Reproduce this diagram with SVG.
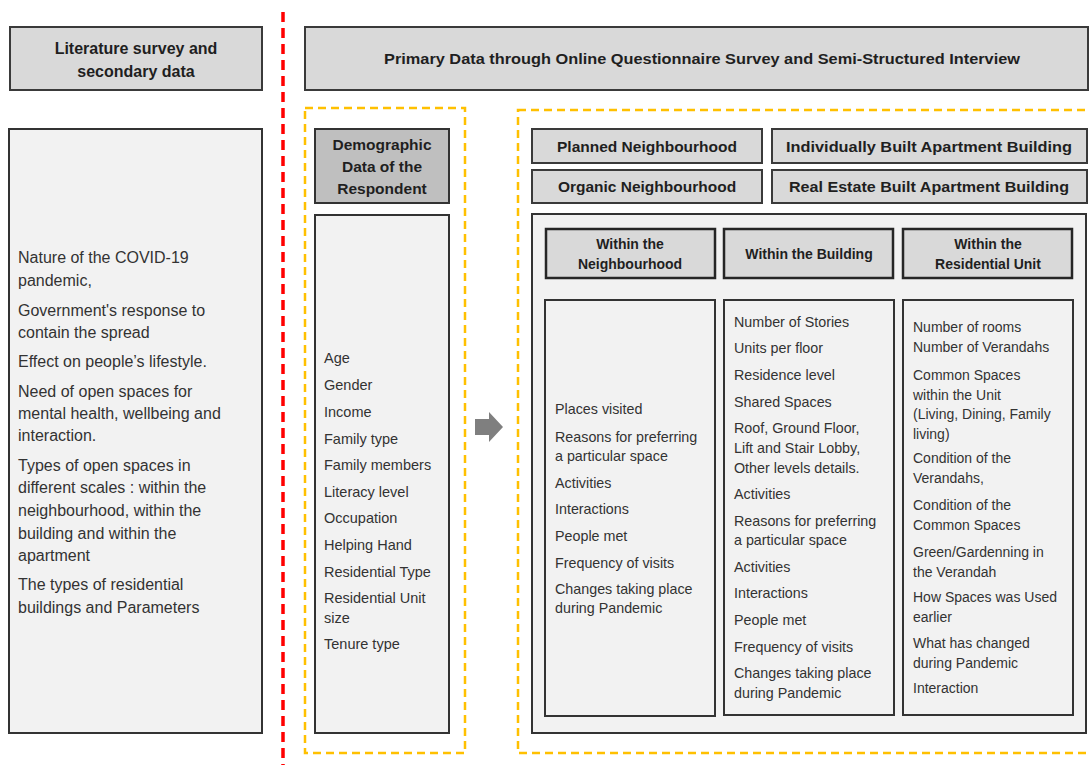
<svg xmlns="http://www.w3.org/2000/svg" width="1089" height="765" viewBox="0 0 1089 765">
<style>
.hdr{fill:#d9d9d9;stroke:#3a3a3a;stroke-width:2}
.dhdr{fill:#bfbfbf;stroke:#333;stroke-width:2}
.list{fill:#f2f2f2;stroke:#333;stroke-width:2}
.chdr{fill:#d9d9d9;stroke:#262626;stroke-width:2.5}
.yel{fill:none;stroke:#ffc000;stroke-width:2.5;stroke-dasharray:8 5}
.b{font-family:"Liberation Sans",Arial,sans-serif;font-weight:bold;fill:#1f1f1f;text-anchor:middle}
.t{font-family:"Liberation Sans",Arial,sans-serif;fill:#333}
</style>
<rect width="1089" height="765" fill="#fff"/>
<line x1="283" y1="12" x2="283" y2="765" stroke="#ff0000" stroke-width="3.5" stroke-dasharray="10 6"/>

<g id="lit-header">
<rect class="hdr" x="10" y="27" width="252" height="63"/>
<text class="b" font-size="16" x="136" y="54">Literature survey and</text>
<text class="b" font-size="16" x="136" y="77">secondary data</text>
</g>

<g id="primary-header">
<rect class="hdr" x="305" y="27" width="783" height="63"/>
<text class="b" font-size="14.5" x="702" y="64" textLength="636" lengthAdjust="spacingAndGlyphs">Primary Data through Online Questionnaire Survey and Semi-Structured Interview</text>
</g>

<g id="lit-list">
<rect class="list" x="9" y="129" width="253" height="604"/>
<g class="t" font-size="16">
<text x="18" y="263">Nature of the COVID-19</text>
<text x="18" y="286">pandemic,</text>
<text x="18" y="316">Government's response to</text>
<text x="18" y="338">contain the spread</text>
<text x="18" y="367">Effect on people’s lifestyle.</text>
<text x="18" y="397">Need of open spaces for</text>
<text x="18" y="419">mental health, wellbeing and</text>
<text x="18" y="441">interaction.</text>
<text x="18" y="471">Types of open spaces in</text>
<text x="18" y="493">different scales : within the</text>
<text x="18" y="516">neighbourhood, within the</text>
<text x="18" y="539">building and within the</text>
<text x="18" y="561">apartment</text>
<text x="18" y="590">The types of residential</text>
<text x="18" y="613">buildings and Parameters</text>
</g>
</g>

<rect class="yel" x="305" y="108" width="160" height="645"/>

<g id="demo-header">
<rect class="dhdr" x="315" y="129" width="134" height="74"/>
<text class="b" font-size="15.5" x="382" y="150">Demographic</text>
<text class="b" font-size="15.5" x="382" y="172">Data of the</text>
<text class="b" font-size="15.5" x="382" y="194">Respondent</text>
</g>

<g id="demo-list">
<rect class="list" x="315" y="215" width="134" height="518"/>
<g class="t" font-size="14.5">
<text x="324" y="363">Age</text>
<text x="324" y="390">Gender</text>
<text x="324" y="417">Income</text>
<text x="324" y="444">Family type</text>
<text x="324" y="470">Family members</text>
<text x="324" y="497">Literacy level</text>
<text x="324" y="523">Occupation</text>
<text x="324" y="550">Helping Hand</text>
<text x="324" y="577">Residential Type</text>
<text x="324" y="603">Residential Unit</text>
<text x="324" y="623">size</text>
<text x="324" y="649">Tenure type</text>
</g>
</g>

<g id="connectors">
<polygon points="475,419 489,419 489,412 503,427 489,442 489,435 475,435" fill="#7f7f7f"/>
</g>

<rect class="yel" x="518" y="110" width="580" height="643"/>

<g id="planned">
<rect class="hdr" x="532" y="129" width="230" height="34"/>
<text class="b" font-size="15.5" x="647" y="152">Planned Neighbourhood</text>
</g>
<g id="organic">
<rect class="hdr" x="532" y="170" width="230" height="33"/>
<text class="b" font-size="15.5" x="647" y="192">Organic Neighbourhood</text>
</g>
<g id="individual">
<rect class="hdr" x="772" y="129" width="315" height="34"/>
<text class="b" font-size="15.5" x="929" y="152" textLength="286" lengthAdjust="spacingAndGlyphs">Individually Built Apartment Building</text>
</g>
<g id="realestate">
<rect class="hdr" x="772" y="170" width="315" height="33"/>
<text class="b" font-size="15.5" x="929" y="192" textLength="280" lengthAdjust="spacingAndGlyphs">Real Estate Built Apartment Building</text>
</g>

<g id="container">
<rect class="list" x="532" y="214" width="554" height="519"/>
</g>

<g id="h-neigh">
<rect class="chdr" x="546" y="229" width="169" height="49"/>
<text class="b" font-size="14" x="630" y="249">Within the</text>
<text class="b" font-size="14" x="630" y="269">Neighbourhood</text>
</g>
<g id="h-build">
<rect class="chdr" x="724" y="229" width="169" height="49"/>
<text class="b" font-size="14" x="809" y="259">Within the Building</text>
</g>
<g id="h-unit">
<rect class="chdr" x="903" y="229" width="169" height="49"/>
<text class="b" font-size="14" x="988" y="249">Within the</text>
<text class="b" font-size="14" x="988" y="269">Residential Unit</text>
</g>

<g id="l-neigh">
<rect class="list" x="545" y="300" width="170" height="416"/>
<g class="t" font-size="14.3">
<text x="555" y="414">Places visited</text>
<text x="555" y="442">Reasons for preferring</text>
<text x="555" y="461">a particular space</text>
<text x="555" y="488">Activities</text>
<text x="555" y="514">Interactions</text>
<text x="555" y="541">People met</text>
<text x="555" y="568">Frequency of visits</text>
<text x="555" y="594">Changes taking place</text>
<text x="555" y="613">during Pandemic</text>
</g>
</g>

<g id="l-build">
<rect class="list" x="724" y="300" width="170" height="415"/>
<g class="t" font-size="14.3">
<text x="734" y="327">Number of Stories</text>
<text x="734" y="353">Units per floor</text>
<text x="734" y="380">Residence level</text>
<text x="734" y="407">Shared Spaces</text>
<text x="734" y="433">Roof, Ground Floor,</text>
<text x="734" y="453">Lift and Stair Lobby,</text>
<text x="734" y="473">Other levels details.</text>
<text x="734" y="499">Activities</text>
<text x="734" y="526">Reasons for preferring</text>
<text x="734" y="545">a particular space</text>
<text x="734" y="572">Activities</text>
<text x="734" y="598">Interactions</text>
<text x="734" y="625">People met</text>
<text x="734" y="652">Frequency of visits</text>
<text x="734" y="678">Changes taking place</text>
<text x="734" y="698">during Pandemic</text>
</g>
</g>

<g id="l-unit">
<rect class="list" x="903" y="300" width="170" height="415"/>
<g class="t" font-size="14">
<text x="913" y="332">Number of rooms</text>
<text x="913" y="352">Number of Verandahs</text>
<text x="913" y="380">Common Spaces</text>
<text x="913" y="400">within the Unit</text>
<text x="913" y="419">(Living, Dining, Family</text>
<text x="913" y="439">living)</text>
<text x="913" y="463">Condition of the</text>
<text x="913" y="483">Verandahs,</text>
<text x="913" y="510">Condition of the</text>
<text x="913" y="530">Common Spaces</text>
<text x="913" y="557">Green/Gardenning in</text>
<text x="913" y="577">the Verandah</text>
<text x="913" y="602">How Spaces was Used</text>
<text x="913" y="622">earlier</text>
<text x="913" y="648">What has changed</text>
<text x="913" y="668">during Pandemic</text>
<text x="913" y="693">Interaction</text>
</g>
</g>
</svg>
